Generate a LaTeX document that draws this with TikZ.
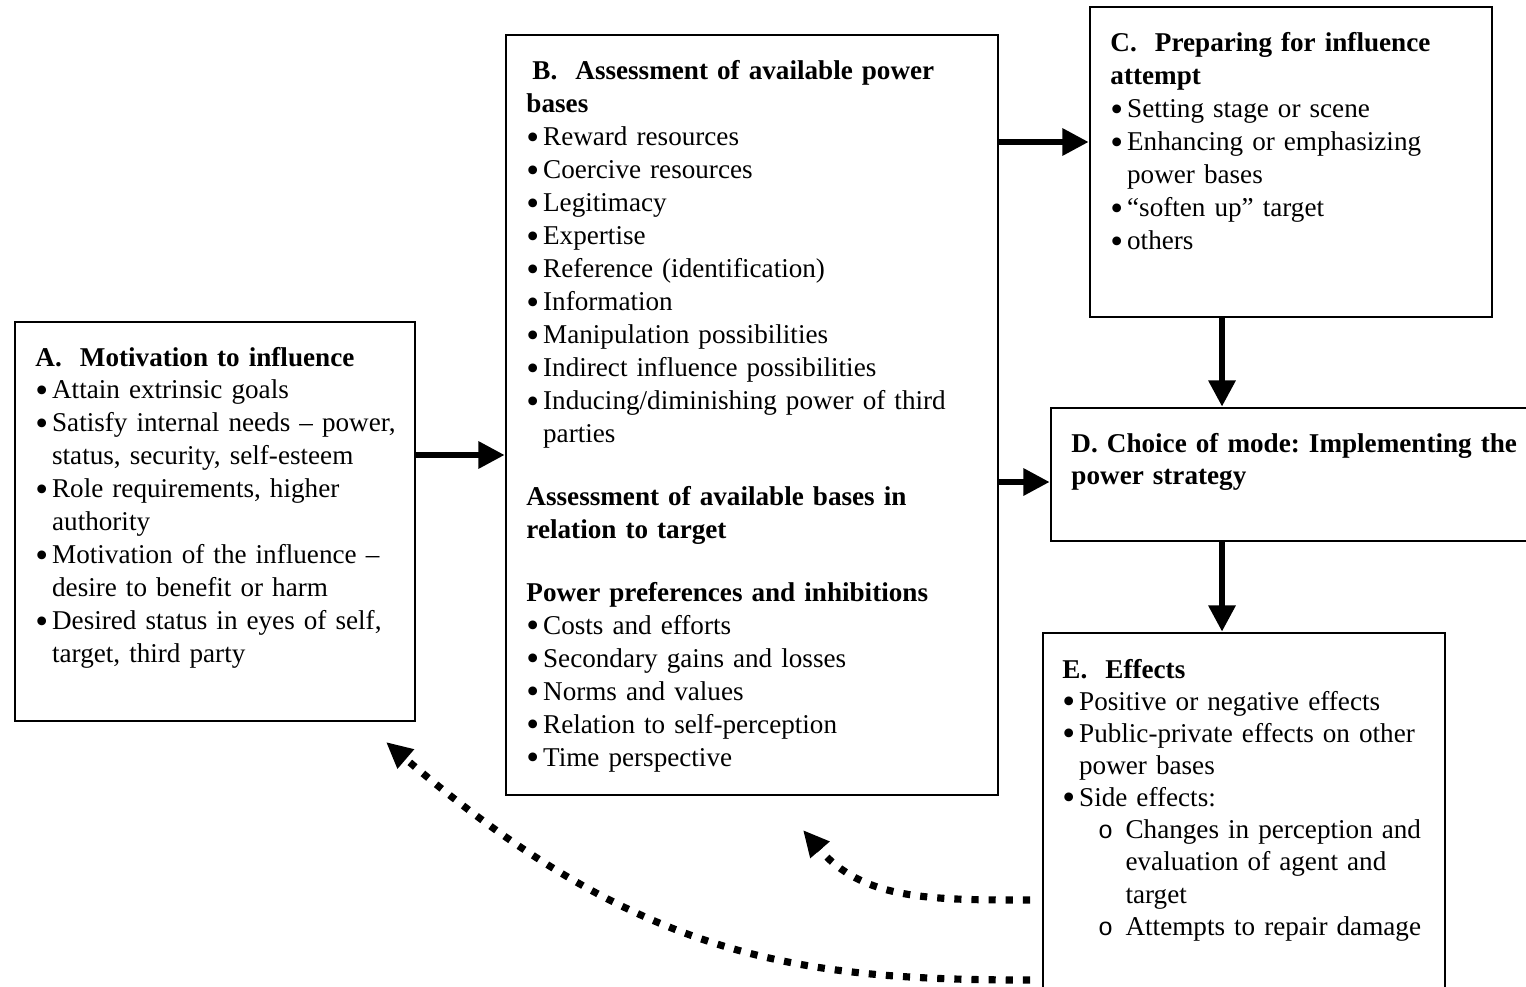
\documentclass[tikz,border=0pt]{standalone}
\usepackage{fontspec}
\setmainfont{Liberation Serif}
\newfontfamily\monofont{Liberation Mono}
\usetikzlibrary{arrows.meta,fit}
\frenchspacing

\newcommand\dotmark{\raisebox{-0.12em}{\scalebox{1.35}{\textbullet}}}
\newcommand\bul[1]{\par\hangindent=7pt\hangafter=1\noindent\hbox to 7pt{\dotmark\hfil}#1}
\newcommand\subbul[1]{\par\hangindent=26.5pt\hangafter=1\noindent\hbox to 26.5pt{\hskip15pt{\monofont\fontsize{10.5pt}{10pt}\selectfont o}\hfil}#1}
\newcommand\gap{\par\vspace{12.5pt}}

\begin{document}
\begin{tikzpicture}[x=0.42pt,y=-0.42pt,
  box/.style={draw,line width=1.2pt,inner sep=0pt},
  txt/.style={anchor=base west,inner sep=0pt,text width=#1,align=left,font=\fontsize{11.4pt}{13.85pt}\selectfont},
  txt/.default=200pt,
  flow/.style={line width=2.4pt,-{Triangle[length=11pt,width=11pt]}},
  back/.style={line width=3pt,dash pattern=on 3pt off 4.2pt,-{Triangle[length=11pt,width=10pt]}}]
\clip (0,0) rectangle (1526,986);
% boxes
\node[box,fit={(15,322) (415,721)}] (boxA) {};
\node[box,fit={(506,35) (998,795)}] (boxB) {};
\node[box,fit={(1090,7) (1492,317)}] (boxC) {};
\node[box,fit={(1051,408) (1545,541)}] (boxD) {};
\node[box,fit={(1043,633) (1445,1005)}] (boxE) {};
% texts
\node[txt=170pt] (txtA) at (35,366) {\textbf{A.\ \ Motivation to influence}
  \bul{Attain extrinsic goals}
  \bul{Satisfy internal needs -- power,\newline status, security, self-esteem}
  \bul{Role requirements, higher\newline authority}
  \bul{Motivation of the influence --\newline desire to benefit or harm}
  \bul{Desired status in eyes of self,\newline target, third party}\par};
\node[txt=205pt] (txtB) at (526,80) {\hspace*{2.5pt}\textbf{B.\ \ Assessment of available power\newline bases}
  \bul{Reward resources}
  \bul{Coercive resources}
  \bul{Legitimacy}
  \bul{Expertise}
  \bul{Reference (identification)}
  \bul{Information}
  \bul{Manipulation possibilities}
  \bul{Indirect influence possibilities}
  \bul{Inducing/diminishing power of third\newline parties}
  \gap\noindent\textbf{Assessment of available bases in\newline relation to target}
  \gap\noindent\textbf{Power preferences and inhibitions}
  \bul{Costs and efforts}
  \bul{Secondary gains and losses}
  \bul{Norms and values}
  \bul{Relation to self-perception}
  \bul{Time perspective}\par};
\node[txt=165pt] (txtC) at (1110,52) {\textbf{C.\ \ Preparing for influence\newline attempt}
  \bul{Setting stage or scene}
  \bul{Enhancing or emphasizing\newline power bases}
  \bul{“soften up” target}
  \bul{others}\par};
\node[txt=200pt] (txtD) at (1071,452) {\textbf{D. Choice of mode: Implementing the\newline power strategy}};
\node[txt=170pt,font=\fontsize{11.4pt}{13.5pt}\selectfont] (txtE) at (1062,678) {\textbf{E.\ \ Effects}
  \bul{Positive or negative effects}
  \bul{Public-private effects on other\newline power bases}
  \bul{Side effects:}
  \subbul{Changes in perception and\newline evaluation of agent and\newline target}
  \subbul{Attempts to repair damage}\par};
% forward arrows
\coordinate (yAB) at (0,455);
\coordinate (yBC) at (0,142);
\coordinate (yBD) at (0,482);
\coordinate (xCE) at (1222,0);
\draw[flow] (boxA.east |- yAB) -- (boxB.west |- yAB);
\draw[flow] (boxB.east |- yBC) -- (boxC.west |- yBC);
\draw[flow] (boxB.east |- yBD) -- (boxD.west |- yBD);
\draw[flow] (boxC.south -| xCE) -- (boxD.north -| xCE);
\draw[flow] (boxD.south -| xCE) -- (boxE.north -| xCE);
% feedback arrows
\coordinate (fbA) at (1030,980);
\coordinate (tipA) at (386,742);
\coordinate (fbB) at (1030,900);
\coordinate (tipB) at (803,830);
\draw[back] (fbA) .. controls (800,980) and (640,960) .. (tipA);
\draw[back] (fbB) .. controls (930,900) and (863,900) .. (tipB);
\end{tikzpicture}
\end{document}
